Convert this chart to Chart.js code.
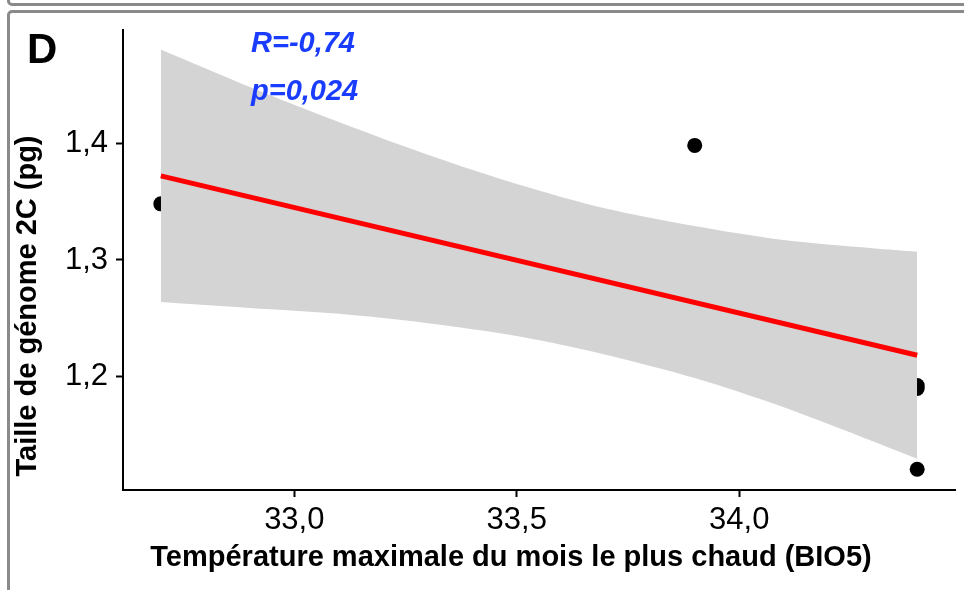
<!DOCTYPE html>
<html>
<head>
<meta charset="utf-8">
<script src="https://cdn.jsdelivr.net/npm/chart.js@4"></script>
<style>
  html, body { margin: 0; padding: 0; background: #fff; }
  #wrap { position: relative; width: 964px; height: 590px; overflow: hidden; }
  .frame { position: absolute; border: 3px solid #8a8a8a; border-radius: 5px; }
  #f1 { left: 7px; top: -30px; width: 1000px; height: 30px; }
  #f2 { left: 7px; top: 10px; width: 1000px; height: 1000px; }
  canvas { position: absolute; left: 0; top: 0; }
</style>
</head>
<body>
<div id="wrap">
  <div class="frame" id="f1"></div>
  <div class="frame" id="f2"></div>
  <canvas id="myChart" width="964" height="590"></canvas>
</div>
<script>
// observed points
const ptX = [32.7, 33.9, 34.4, 34.4, 34.4];
const ptY = [1.348, 1.398, 1.1926, 1.1901, 1.121];

// regression line
const fitX = [32.7, 34.4];
const fitY = [1.372, 1.2185];

// confidence band
const bandX  = [32.7, 32.9, 33.1, 33.3, 33.5, 33.7, 33.9, 34.1, 34.3, 34.4];
const bandHi = [1.480, 1.448, 1.418, 1.390, 1.365, 1.344, 1.329, 1.317, 1.310, 1.307];
const bandLo = [1.264, 1.259, 1.254, 1.246, 1.235, 1.219, 1.199, 1.174, 1.145, 1.130];

const xTicks = [33.0, 33.5, 34.0];
const yTicks = [1.2, 1.3, 1.4];

const xTitle = 'Température maximale du mois le plus chaud (BIO5)';
const yTitle = 'Taille de génome 2C (pg)';
const panelTag = 'D';
const statR = 'R=-0,74';
const statP = 'p=0,024';

const FONT = "'Liberation Sans', Arial, sans-serif";
const toPts = (xs, ys) => xs.map((x, i) => ({ x: x, y: ys[i] }));
const fmt = v => Number(v).toFixed(1).replace('.', ',');

const textPlugin = {
    id: 'panelText',
    afterDraw(chart) {
        const c = chart.ctx;
        c.save();
        c.fillStyle = '#000';
        c.textBaseline = 'alphabetic';

        c.font = 'bold 42px ' + FONT;
        c.textAlign = 'left';
        c.fillText(panelTag, 27, 63);

        c.font = 'bold 29px ' + FONT;
        c.textAlign = 'center';
        c.fillText(xTitle, 511, 566);

        c.save();
        c.translate(36, 306);
        c.rotate(-Math.PI / 2);
        c.fillText(yTitle, 0, 0);
        c.restore();

        c.fillStyle = '#1a3cff';
        c.font = 'italic bold 29px ' + FONT;
        c.textAlign = 'left';
        c.fillText(statR, 251, 52);
        c.fillText(statP, 251, 100);
        c.restore();
    }
};

const axisGrid = {
    display: true,
    drawOnChartArea: false,
    drawTicks: true,
    tickLength: 7,
    tickWidth: 2,
    tickColor: '#000'
};

new Chart(document.getElementById('myChart'), {
    type: 'scatter',
    data: {
        datasets: [
            {
                data: toPts(ptX, ptY),
                backgroundColor: '#000',
                borderWidth: 0,
                pointRadius: 7.5,
                order: 3
            },
            {
                data: toPts(bandX, bandHi),
                showLine: true,
                borderWidth: 0,
                borderColor: 'rgba(0,0,0,0)',
                pointRadius: 0,
                backgroundColor: '#d4d4d4',
                fill: '+1',
                tension: 0.3,
                order: 2
            },
            {
                data: toPts(bandX, bandLo),
                showLine: true,
                borderWidth: 0,
                borderColor: 'rgba(0,0,0,0)',
                pointRadius: 0,
                fill: false,
                tension: 0.3,
                order: 2
            },
            {
                data: toPts(fitX, fitY),
                showLine: true,
                borderColor: '#ff0000',
                borderWidth: 5,
                pointRadius: 0,
                fill: false,
                order: 1
            }
        ]
    },
    options: {
        responsive: false,
        animation: false,
        layout: { padding: { top: 30, right: 9, left: 0, bottom: 0 } },
        scales: {
            x: {
                type: 'linear',
                min: 32.615,
                max: 34.485,
                afterBuildTicks: s => { s.ticks = xTicks.map(v => ({ value: v })); },
                afterFit: s => { s.height = 100; },
                ticks: { callback: fmt, font: { family: FONT, size: 31 }, color: '#000', padding: 5, maxRotation: 0 },
                grid: axisGrid,
                border: { display: true, color: '#000', width: 2 }
            },
            y: {
                type: 'linear',
                min: 1.1033,
                max: 1.4967,
                afterBuildTicks: s => { s.ticks = yTicks.map(v => ({ value: v })); },
                afterFit: s => { s.width = 123; },
                ticks: { callback: fmt, font: { family: FONT, size: 31 }, color: '#000', padding: 8 },
                grid: axisGrid,
                border: { display: true, color: '#000', width: 2 }
            }
        },
        plugins: {
            legend: { display: false },
            tooltip: { enabled: false }
        }
    },
    plugins: [textPlugin]
});
</script>
</body>
</html>
